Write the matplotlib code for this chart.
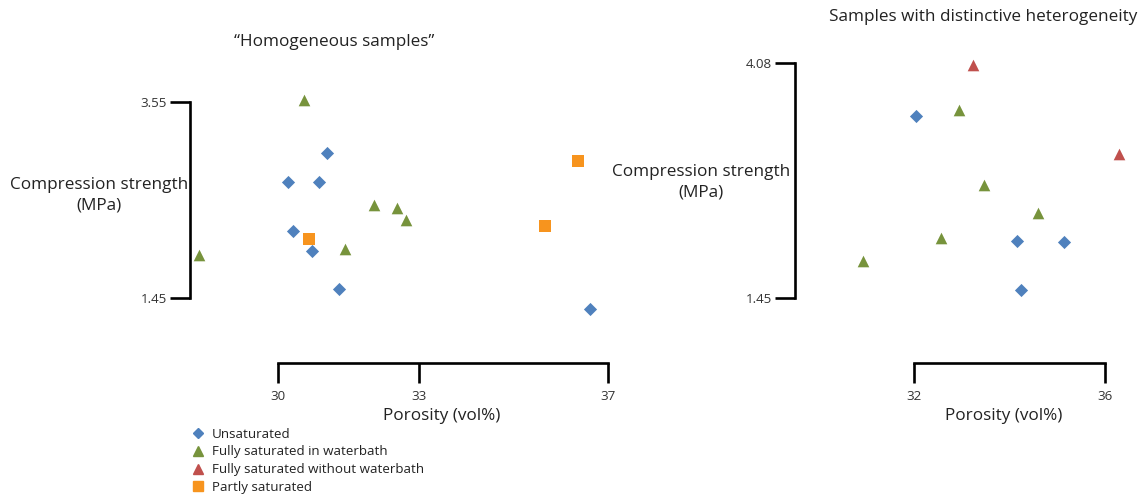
import matplotlib
matplotlib.use('Agg')
import matplotlib.pyplot as plt
from matplotlib.lines import Line2D

plt.rcParams['font.family'] = ['Open Sans', 'DejaVu Sans']

# colours / markers for each saturation state
c_unsat = '#4F81BD'
c_bath = '#77933C'
c_nobath = '#C0504D'
c_part = '#F7941E'

# ---- "Homogeneous samples" (porosity vol%, compression strength MPa)
hom_unsat_x = [31.03, 30.21, 30.86, 30.31, 30.73, 31.29, 36.62]
hom_unsat_y = [3.00, 2.69, 2.69, 2.17, 1.95, 1.55, 1.33]
hom_bath_x = [30.56, 32.04, 32.53, 32.71, 31.43, 28.33]
hom_bath_y = [3.57, 2.45, 2.41, 2.29, 1.98, 1.91]
hom_part_x = [30.66, 36.36, 35.66]
hom_part_y = [2.08, 2.92, 2.22]

# ---- Samples with distinctive heterogeneity
het_unsat_x = [32.04, 34.16, 35.13, 34.24]
het_unsat_y = [3.49, 2.09, 2.08, 1.55]
het_bath_x = [32.94, 33.47, 34.59, 32.57, 30.93]
het_bath_y = [3.56, 2.72, 2.41, 2.13, 1.87]
het_nobath_x = [33.24, 36.29]
het_nobath_y = [4.06, 3.07]

hom_xticks = [30, 33, 37]
hom_yticks = [1.45, 3.55]
het_xticks = [32, 36]
het_yticks = [1.45, 4.08]

W, H = 1147, 496
fig = plt.figure(figsize=(W / 100, H / 100), dpi=100)

ax1 = fig.add_axes([190 / W, 133 / H, 430 / W, 303 / H])
ax2 = fig.add_axes([795 / W, 133 / H, 345 / W, 323 / H])

ms = 70
ax1.scatter(hom_unsat_x, hom_unsat_y, marker='D', s=45, color=c_unsat, lw=0)
ax1.scatter(hom_bath_x, hom_bath_y, marker='^', s=ms, color=c_bath, lw=0)
ax1.scatter(hom_part_x, hom_part_y, marker='s', s=ms, color=c_part, lw=0)

ax2.scatter(het_unsat_x, het_unsat_y, marker='D', s=45, color=c_unsat, lw=0)
ax2.scatter(het_bath_x, het_bath_y, marker='^', s=ms, color=c_bath, lw=0)
ax2.scatter(het_nobath_x, het_nobath_y, marker='^', s=ms, color=c_nobath, lw=0)

ax1.set_xlim(28.133, 37.255)
ax1.set_ylim(0.758, 3.996)
ax2.set_xlim(29.502, 36.727)
ax2.set_ylim(0.728, 4.341)

for ax, xt, yt in [(ax1, hom_xticks, hom_yticks), (ax2, het_xticks, het_yticks)]:
    ax.patch.set_alpha(0)
    ax.spines['top'].set_visible(False)
    ax.spines['right'].set_visible(False)
    ax.spines['left'].set_bounds(yt[0], yt[-1])
    ax.spines['bottom'].set_bounds(xt[0], xt[-1])
    ax.spines['left'].set_linewidth(1.9)
    ax.spines['bottom'].set_linewidth(1.9)
    ax.set_xticks(xt)
    ax.set_yticks(yt)
    ax.set_xticklabels([str(v) for v in xt])
    ax.set_yticklabels([f'{v:.2f}' for v in yt])
    ax.tick_params(direction='out', length=14.5, width=1.9, labelsize=9.6,
                   labelcolor='#333333')
    ax.tick_params(axis='x', pad=5)
    ax.tick_params(axis='y', pad=2)

# axis titles as free text, like the original layout
lab = dict(ha='center', va='center', fontsize=12.3, color='#222222', linespacing=1.35)
fig.text(99 / W, 1 - 195 / H, 'Compression strength\n(MPa)', **lab)
fig.text(701 / W, 1 - 182 / H, 'Compression strength\n(MPa)', **lab)
fig.text(442 / W, 1 - 416 / H, 'Porosity (vol%)', **lab)
fig.text(1004 / W, 1 - 416 / H, 'Porosity (vol%)', **lab)
fig.text(334 / W, 1 - 42 / H, '\u201cHomogeneous samples\u201d', **lab)
fig.text(983 / W, 1 - 17 / H, 'Samples with distinctive heterogeneity', **lab)

handles = [
    Line2D([], [], marker='D', ls='none', color=c_unsat, markersize=5),
    Line2D([], [], marker='^', ls='none', color=c_bath, markersize=7),
    Line2D([], [], marker='^', ls='none', color=c_nobath, markersize=7),
    Line2D([], [], marker='s', ls='none', color=c_part, markersize=7),
]
labels = ['Unsaturated', 'Fully saturated in waterbath',
          'Fully saturated without waterbath', 'Partly saturated']
fig.legend(handles, labels, loc='upper left', bbox_to_anchor=(185 / W, 1 - 421 / H),
           frameon=False, fontsize=9.6, handlelength=1.0, handletextpad=0.5,
           labelspacing=0.36, borderpad=0, labelcolor='#222222')

fig.savefig('out.png', dpi=100)
